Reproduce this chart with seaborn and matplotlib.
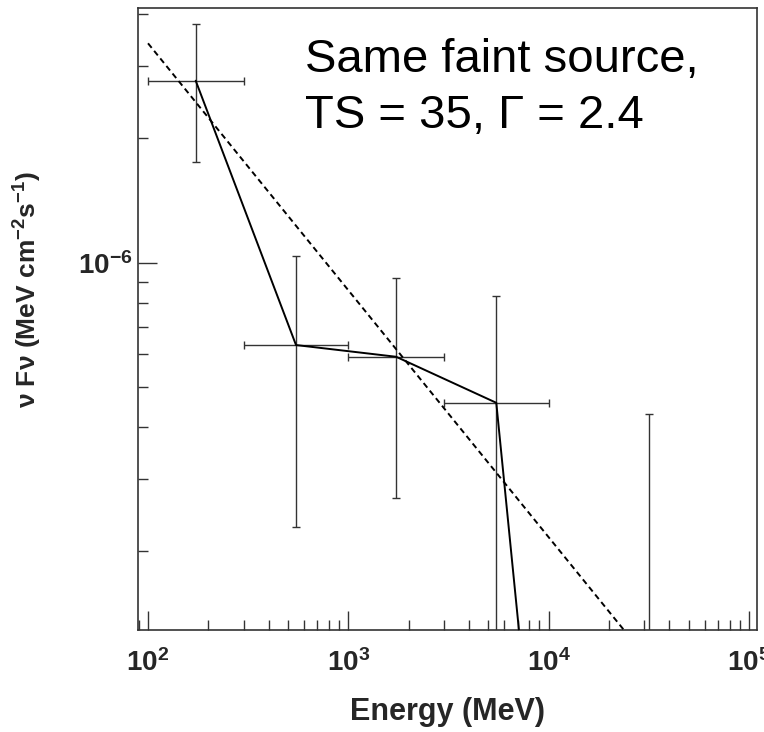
import numpy as np
import pandas as pd
import matplotlib
matplotlib.use("Agg")
import matplotlib.pyplot as plt
import seaborn as sns
from matplotlib.ticker import LogLocator, NullFormatter, FixedLocator

# ---- data ----
energy = [173, 548, 1732, 5477, 31623]            # MeV (bin centres)
e_low = [100, 300, 1000, 3000, 10000]             # bin edges
e_high = [300, 1000, 3000, 10000, 100000]
flux = [2.76e-6, 6.32e-7, 5.92e-7, 4.58e-7, 9e-11]  # nuFnu (MeV cm^-2 s^-1)
flux_lo = [1.75e-6, 2.29e-7, 2.70e-7, 1e-9, 9e-11]
flux_hi = [3.78e-6, 1.04e-6, 9.17e-7, 8.3e-7, 4.30e-7]
model_e = [100, 100000]
model_flux = [3.40e-6, 5.46e-8]
x_ticks = [1e2, 1e3, 1e4, 1e5]
x_tick_labels = [r"$\mathbf{10^{2}}$", r"$\mathbf{10^{3}}$", r"$\mathbf{10^{4}}$", r"$\mathbf{10^{5}}$"]
y_ticks = [1e-6]
y_tick_labels = [r"$\mathbf{10^{-6}}$"]
title_lines = ["Same faint source,", "TS = 35, \u0393 = 2.4"]

sns.set_theme(style="ticks")
plt.rcParams["font.family"] = ["Liberation Sans", "DejaVu Sans"]
plt.rcParams["mathtext.fontset"] = "custom"
plt.rcParams["mathtext.rm"] = "Liberation Sans"
plt.rcParams["mathtext.bf"] = "Liberation Sans:bold"
plt.rcParams["mathtext.it"] = "Liberation Sans:italic"

fig = plt.figure(figsize=(7.64, 7.32), dpi=100)
ax = fig.add_axes([138/764, 1 - 630/732, (757-138)/764, (630-8)/732])
ax.set_xscale("log")
ax.set_yscale("log")

pts = pd.DataFrame({"energy": energy, "flux": flux})
mdl = pd.DataFrame({"energy": model_e, "flux": model_flux})

# error bars
f = np.array(flux)
xerr = [np.array(energy) - np.array(e_low), np.array(e_high) - np.array(energy)]
yerr = [f - np.array(flux_lo), np.array(flux_hi) - f]
ax.errorbar(energy, flux, xerr=xerr, yerr=yerr, fmt="none", ecolor="#333333",
            elinewidth=1.0, capsize=3.2, capthick=1.0, zorder=2)

sns.lineplot(data=pts, x="energy", y="flux", ax=ax, color="black", linewidth=1.4,
             sort=False, estimator=None, zorder=3)
sns.lineplot(data=mdl, x="energy", y="flux", ax=ax, color="black", linewidth=1.4,
             linestyle=(0, (3, 2)), estimator=None, zorder=3)

ax.set_xlim(10**1.95, 10**5.04)
ax.set_ylim(1.29e-7, 4.14e-6)

ax.xaxis.set_major_locator(FixedLocator(x_ticks))
ax.set_xticklabels(x_tick_labels)
ax.xaxis.set_minor_locator(LogLocator(base=10, subs=np.arange(2, 10)))
ax.xaxis.set_minor_formatter(NullFormatter())
ax.yaxis.set_major_locator(FixedLocator(y_ticks))
ax.set_yticklabels(y_tick_labels)
ax.yaxis.set_minor_locator(LogLocator(base=10, subs=np.arange(2, 10)))
ax.yaxis.set_minor_formatter(NullFormatter())

ax.tick_params(which="both", direction="in", top=False, right=False, color="#333333")
ax.tick_params(which="major", length=14, width=1.0, labelsize=20)
ax.tick_params(axis="x", which="major", pad=14)
ax.tick_params(axis="y", which="major", pad=4)
ax.tick_params(which="minor", length=7, width=1.0)
for s in ax.spines.values():
    s.set_color("#333333")
    s.set_linewidth(1.2)

ax.set_xlabel("Energy (MeV)", fontsize=22, fontweight="bold", labelpad=14)
ax.set_ylabel(r"$\mathbf{\nu\ F\nu\ (MeV\ cm^{-2}s^{-1})}$", fontsize=19)
ax.yaxis.set_label_coords((44 - 138) / 619, (630 - 290) / 622)

ax.text(0.270, 0.897, title_lines[0], transform=ax.transAxes, fontsize=34,
        color="black", va="baseline")
ax.text(0.270, 0.807, title_lines[1], transform=ax.transAxes, fontsize=34,
        color="black", va="baseline")

fig.savefig("out.png", dpi=100)
